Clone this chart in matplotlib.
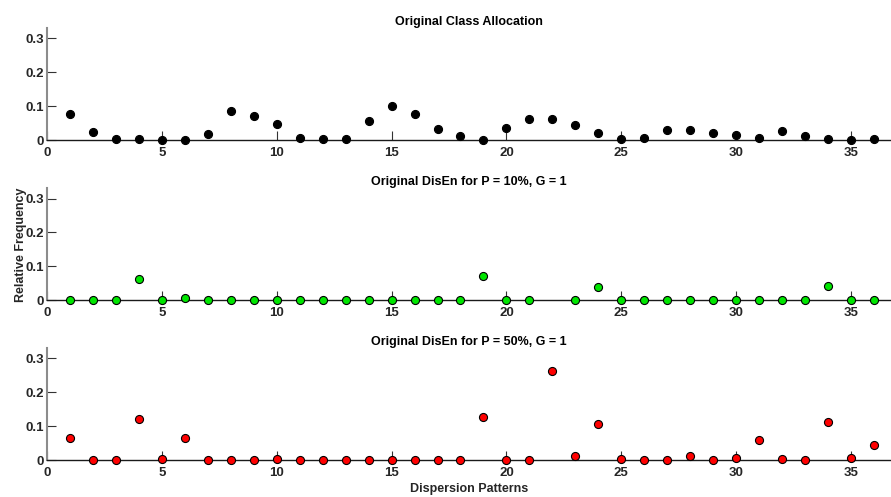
import numpy as np
import matplotlib
matplotlib.use('Agg')
import matplotlib.pyplot as plt

plt.rcParams['font.family'] = ['Liberation Sans', 'DejaVu Sans']

padroes = np.arange(1, 37)

# frequencias relativas
original = [0.078, 0.025, 0.003, 0.003, 0.000, 0.000, 0.019, 0.087, 0.072, 0.048,
            0.006, 0.003, 0.003, 0.056, 0.101, 0.078, 0.034, 0.011, 0.000, 0.037,
            0.061, 0.061, 0.045, 0.020, 0.003, 0.006, 0.031, 0.031, 0.022, 0.014,
            0.006, 0.028, 0.011, 0.003, 0.000, 0.003]
disen_10 = [0.000, 0.000, 0.000, 0.064, 0.000, 0.007, 0.000, 0.000, 0.000, 0.000,
            0.000, 0.000, 0.000, 0.000, 0.000, 0.000, 0.000, 0.000, 0.070, 0.000,
            0.000, np.nan, 0.000, 0.040, 0.000, 0.000, 0.000, 0.000, 0.000, 0.000,
            0.000, 0.000, 0.000, 0.043, 0.000, 0.000]
disen_50 = [0.066, 0.000, 0.000, 0.120, 0.003, 0.064, 0.000, 0.000, 0.000, 0.003,
            0.000, 0.000, 0.000, 0.000, 0.000, 0.000, 0.000, 0.000, 0.126, 0.000,
            0.000, 0.262, 0.011, 0.106, 0.003, 0.000, 0.000, 0.011, 0.000, 0.005,
            0.058, 0.003, 0.000, 0.112, 0.006, 0.045]

titulos = ['Original Class Allocation',
           'Original DisEn for P = 10%, G = 1',
           'Original DisEn for P = 50%, G = 1']
series = [original, disen_10, disen_50]
cores = ['black', '#00e600', '#ff0000']
bases = [0.718, 0.396, 0.0744]

fig = plt.figure(figsize=(8.91, 4.97), dpi=100)
texto = '#262626'

for i in range(3):
    ax = fig.add_axes([0.0527, bases[i], 0.9473, 0.225])
    ax.plot(padroes, series[i], 'o', color=cores[i], markeredgecolor='black',
            markeredgewidth=0.8, markersize=5.8, clip_on=False, zorder=3)
    ax.set_xlim(0, 36.74)
    ax.set_ylim(0, 0.33)
    ax.set_xticks([0, 5, 10, 15, 20, 25, 30, 35])
    ax.set_yticks([0, 0.1, 0.2, 0.3])
    ax.set_yticklabels(['0', '0.1', '0.2', '0.3'])
    for s in ['top', 'right']:
        ax.spines[s].set_visible(False)
    ax.spines['left'].set_color('#8c8c8c')
    ax.spines['left'].set_linewidth(1.5)
    ax.spines['bottom'].set_color('#1a1a1a')
    ax.spines['bottom'].set_linewidth(1.0)
    ax.tick_params(direction='in', length=6.5, width=0.8, colors='#333333',
                   labelcolor=texto, labelsize=9.5)
    ax.tick_params(axis='x', pad=5)
    ax.tick_params(axis='y', pad=2)
    for lbl in ax.get_xticklabels() + ax.get_yticklabels():
        lbl.set_fontweight('bold')
    ax.set_title(titulos[i], fontsize=9, fontweight='bold', color='black', pad=2.5)
    if i == 1:
        ax.set_ylabel('Relative Frequency', fontsize=9, fontweight='bold',
                      color=texto, labelpad=-1)
    if i == 2:
        ax.set_xlabel('Dispersion Patterns', fontsize=9, fontweight='bold',
                      color=texto, labelpad=3)

plt.savefig('out.png', dpi=100)
